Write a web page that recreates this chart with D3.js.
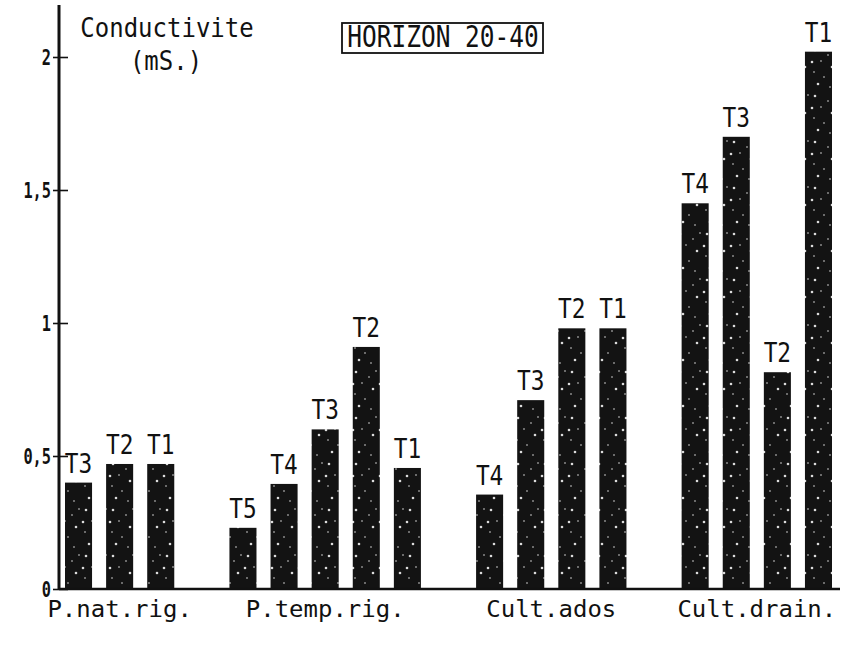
<!DOCTYPE html>
<html>
<head>
<meta charset="utf-8">
<script src="https://cdn.jsdelivr.net/npm/d3@7/dist/d3.min.js"></script>
<style>
  body { margin: 0; background: #fff; }
  svg { display: block; }
  text { font-family: "DejaVu Sans Mono", monospace; fill: #111; }
</style>
</head>
<body>
<div id="chart"></div>
<script>
// Data
var groups = ["P.nat.rig.", "P.temp.rig.", "Cult.ados", "Cult.drain."];
var treatments = [
    ["T3", "T2", "T1"],
    ["T5", "T4", "T3", "T2", "T1"],
    ["T4", "T3", "T2", "T1"],
    ["T4", "T3", "T2", "T1"]
];
var values = [
    [0.40, 0.47, 0.47],
    [0.23, 0.395, 0.60, 0.91, 0.455],
    [0.355, 0.71, 0.98, 0.98],
    [1.45, 1.70, 0.815, 2.02]
];
var yTicks = [0, 0.5, 1, 1.5, 2];
var yTickLabels = ["0", "0,5", "1", "1,5", "2"];

var width = 854, height = 646;

var svg = d3.select("#chart").append("svg")
    .attr("width", width)
    .attr("height", height);

// speckled fill like the scanned bars
var defs = svg.append("defs");
var pat = defs.append("pattern")
    .attr("id", "speckle")
    .attr("patternUnits", "userSpaceOnUse")
    .attr("width", 27).attr("height", 46);
pat.append("rect").attr("width", 27).attr("height", 46).attr("fill", "#131313");
[[5, 4], [18, 9], [11, 15], [22, 21], [4, 26], [14, 31], [8, 38], [20, 41], [25, 3], [2, 16]].forEach(function(p, i) {
    pat.append("circle")
        .attr("cx", p[0]).attr("cy", p[1])
        .attr("r", i % 3 == 0 ? 1.3 : 0.8)
        .attr("fill", "#fff")
        .attr("opacity", 0.85);
});

// flatten bars, with an empty slot between groups
var slots = [], bars = [];
groups.forEach(function(g, gi) {
    if (gi > 0) slots.push("gap" + gi);
    treatments[gi].forEach(function(t, ti) {
        var key = g + "|" + t;
        slots.push(key);
        bars.push({ key: key, group: g, label: t, value: values[gi][ti] });
    });
});

var x = d3.scaleBand().domain(slots).range([65, 832]).paddingInner(0.342).paddingOuter(0);
var y = d3.scaleLinear().domain([0, 2]).range([589, 57]);

// Y axis
var yAxis = d3.axisLeft(y)
    .tickValues(yTicks)
    .tickFormat(function(d, i) { return yTickLabels[i]; })
    .tickSize(6);

var ax = svg.append("g")
    .attr("transform", "translate(59,0)")
    .call(yAxis);
ax.select(".domain").remove();
ax.selectAll(".tick line")
    .attr("x1", -6).attr("x2", 9)
    .attr("stroke", "#111").attr("stroke-width", 1.6);
// tall narrow digits like the plotter ones
ax.selectAll(".tick text")
    .attr("x", -8 / 0.9)
    .attr("dy", "0.35em")
    .attr("transform", "scale(0.9,1.25)")
    .attr("font-size", 17)
    .style("font-family", "'DejaVu Sans Mono', monospace")
    .style("font-weight", "bold")
    .style("font-size", "17px")
    .attr("fill", "#111");

svg.append("line")
    .attr("x1", 59).attr("x2", 59)
    .attr("y1", 5).attr("y2", y(0))
    .attr("stroke", "#111").attr("stroke-width", 3);

// bars
svg.selectAll(".bar")
    .data(bars)
    .enter().append("rect")
    .attr("class", "bar")
    .attr("x", function(d) { return x(d.key); })
    .attr("width", x.bandwidth())
    .attr("y", function(d) { return y(d.value); })
    .attr("height", function(d) { return y(0) - y(d.value); })
    .attr("fill", "url(#speckle)");

// baseline
svg.append("line")
    .attr("x1", 59).attr("x2", 840)
    .attr("y1", y(0)).attr("y2", y(0))
    .attr("stroke", "#111").attr("stroke-width", 2.5);

// helper for the tall narrow plotter lettering
function label(tx, ty, str, size, sx, sy, anchor) {
    svg.append("text")
        .attr("transform", "translate(" + tx + "," + ty + ") scale(" + sx + "," + sy + ")")
        .attr("text-anchor", anchor || "middle")
        .style("font-size", size + "px")
        .text(str);
}

// treatment labels
bars.forEach(function(d) {
    label(x(d.key) + x.bandwidth() / 2, y(d.value) - 10, d.label, 24, 0.95, 1.08);
});

// group labels
groups.forEach(function(g, gi) {
    var first = x(g + "|" + treatments[gi][0]);
    var last = x(g + "|" + treatments[gi][treatments[gi].length - 1]) + x.bandwidth();
    label((first + last) / 2, 617, g, 24, 1.0, 0.98);
});

// axis title
label(167, 37, "Conductivite", 24, 1.0, 1.12);
label(166, 70, "(mS.)", 24, 1.0, 1.12);

// boxed title
label(443, 47, "HORIZON 20-40", 24, 1.02, 1.22);
svg.append("rect")
    .attr("x", 342).attr("y", 23)
    .attr("width", 201).attr("height", 30)
    .attr("fill", "none")
    .attr("stroke", "#111").attr("stroke-width", 1.8);
</script>
</body>
</html>
